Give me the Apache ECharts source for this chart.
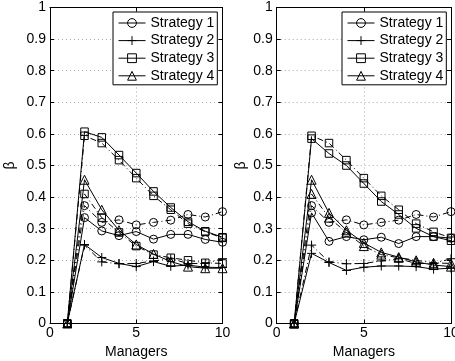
<!DOCTYPE html>
<html>
<head>
<meta charset="utf-8">
<script src="https://cdn.jsdelivr.net/npm/echarts@6/dist/echarts.min.js"></script>
<style>html,body{margin:0;padding:0;background:#fff}#c{width:455px;height:361px}</style>
</head>
<body>
<div id="c"></div>
<script>
// Number of managers (x values)
const managers = [1, 2, 3, 4, 5, 6, 7, 8, 9, 10];
const strategyNames = ['Strategy 1', 'Strategy 2', 'Strategy 3', 'Strategy 4'];
const yTicks = [0, 0.1, 0.2, 0.3, 0.4, 0.5, 0.6, 0.7, 0.8, 0.9, 1];
const xTicks = [0, 5, 10];

// Left panel, solid lines
const leftS1 = [0, 0.335, 0.293, 0.278, 0.291, 0.267, 0.282, 0.282, 0.266, 0.257];
const leftS2 = [0, 0.250, 0.209, 0.190, 0.180, 0.196, 0.181, 0.185, 0.178, 0.177];
const leftS3 = [0, 0.607, 0.589, 0.533, 0.476, 0.418, 0.367, 0.322, 0.292, 0.273];
const leftS4 = [0, 0.455, 0.360, 0.295, 0.250, 0.220, 0.196, 0.180, 0.175, 0.175];

// Reference (dash-dot) lines, shown in both panels
const baseS1 = [0, 0.373, 0.320, 0.328, 0.312, 0.320, 0.327, 0.345, 0.337, 0.354];
const baseS2 = [0, 0.248, 0.195, 0.189, 0.190, 0.198, 0.205, 0.190, 0.190, 0.205];
const baseS3 = [0, 0.594, 0.571, 0.517, 0.460, 0.404, 0.360, 0.316, 0.290, 0.271];
const baseS4 = [0, 0.410, 0.335, 0.288, 0.245, 0.218, 0.208, 0.200, 0.192, 0.190];

// Right panel, solid lines
const rightS1 = [0, 0.350, 0.260, 0.275, 0.265, 0.273, 0.253, 0.275, 0.275, 0.270];
const rightS2 = [0, 0.222, 0.193, 0.168, 0.178, 0.182, 0.182, 0.180, 0.172, 0.175];
const rightS3 = [0, 0.585, 0.538, 0.500, 0.443, 0.386, 0.345, 0.301, 0.275, 0.262];
const rightS4 = [0, 0.455, 0.350, 0.295, 0.255, 0.225, 0.210, 0.195, 0.185, 0.180];

const FONT = '"Liberation Sans", Arial, Helvetica, sans-serif';
const PLUS = 'path://M0,-5L0,5M-5,0L5,0';
const markers = ['circle', PLUS, 'rect', 'triangle'];
const markerSize = [8, 9, 7.5, 9];
const dashDot = [6, 3, 1, 3];

function pairs(arr) { return managers.map((m, i) => [m, arr[i]]); }

function mkSeries(name, data, marker, size, dashed, gi) {
  return {
    type: 'line', name: name, data: pairs(data),
    xAxisIndex: gi * 2, yAxisIndex: gi * 2,
    symbol: marker, symbolSize: size, showAllSymbol: true,
    lineStyle: { color: '#000', width: 1, type: dashed ? dashDot : 'solid' },
    itemStyle: { color: 'transparent', borderColor: '#000', borderWidth: 1 },
    emphasis: { disabled: true }, silent: true, z: dashed ? 2 : 3
  };
}

const series = [];
const leftSolid = [leftS1, leftS2, leftS3, leftS4];
const rightSolid = [rightS1, rightS2, rightS3, rightS4];
const base = [baseS1, baseS2, baseS3, baseS4];
for (let k = 0; k < 4; k++) {
  series.push(mkSeries(strategyNames[k], leftSolid[k], markers[k], markerSize[k], false, 0));
  // in the left panel the dash-dot Strategy 4 line is drawn with square markers
  const lm = k === 3 ? 'rect' : markers[k];
  const ls = k === 3 ? markerSize[2] : markerSize[k];
  series.push(mkSeries(strategyNames[k] + ' ref', base[k], lm, ls, true, 0));
  series.push(mkSeries(strategyNames[k], rightSolid[k], markers[k], markerSize[k], false, 1));
  series.push(mkSeries(strategyNames[k] + ' ref', base[k], markers[k], markerSize[k], true, 1));
}

function xAx(gi, pos, main) {
  return {
    type: 'value', gridIndex: gi, position: pos, min: xTicks[0], max: xTicks[xTicks.length - 1],
    interval: xTicks[1] - xTicks[0],
    axisLine: { show: true, onZero: false, lineStyle: { color: '#000', width: 1 } },
    axisTick: { show: true, inside: true, length: 4, lineStyle: { color: '#000' } },
    axisLabel: { show: main, color: '#000', fontSize: 14, fontFamily: FONT, margin: 3 },
    splitLine: { show: main, lineStyle: { color: '#aaa', type: [1, 3], width: 1 } },
    name: main ? 'Managers' : '', nameLocation: 'middle', nameGap: 9,
    nameTextStyle: { color: '#000', fontSize: 14, fontFamily: FONT }
  };
}
function yAx(gi, pos, main, gap) {
  return {
    type: 'value', gridIndex: gi, position: pos, min: yTicks[0], max: yTicks[yTicks.length - 1],
    interval: yTicks[1] - yTicks[0],
    axisLine: { show: true, onZero: false, lineStyle: { color: '#000', width: 1 } },
    axisTick: { show: true, inside: true, length: 4, lineStyle: { color: '#000' } },
    axisLabel: { show: main, color: '#000', fontSize: 14, fontFamily: FONT, margin: 4 },
    splitLine: { show: main, lineStyle: { color: '#aaa', type: [1, 3], width: 1 } },
    name: main ? 'β' : '', nameLocation: 'middle', nameGap: gap,
    nameTextStyle: { color: '#000', fontSize: 14, fontFamily: FONT }
  };
}

function legend(left) {
  return {
    data: strategyNames, orient: 'vertical', left: left, top: 12,
    backgroundColor: '#fff', borderColor: '#000', borderWidth: 1,
    padding: [4, 3, 2, 5], itemWidth: 27, itemHeight: 11, itemGap: 3.6,
    selectedMode: false,
    lineStyle: { width: 1, color: '#000' },
    itemStyle: { borderWidth: 1, borderColor: '#000', color: 'transparent' },
    textStyle: { color: '#000', fontSize: 14, fontFamily: FONT }
  };
}

const chart = echarts.init(document.getElementById('c'), null, { renderer: 'canvas' });
chart.setOption({
  animation: false,
  backgroundColor: '#fff',
  grid: [
    { left: 50, top: 7.5, width: 172.5, height: 316, outerBoundsMode: 'none', containLabel: false },
    { left: 276.7, top: 7.5, width: 174.3, height: 316, outerBoundsMode: 'none', containLabel: false }
  ],
  xAxis: [xAx(0, 'bottom', true), xAx(0, 'top', false), xAx(1, 'bottom', true), xAx(1, 'top', false)],
  yAxis: [yAx(0, 'left', true, 33), yAx(0, 'right', false, 0), yAx(1, 'left', true, 29), yAx(1, 'right', false, 0)],
  legend: [legend(113), legend(342)],
  series: series
});
</script>
</body>
</html>
